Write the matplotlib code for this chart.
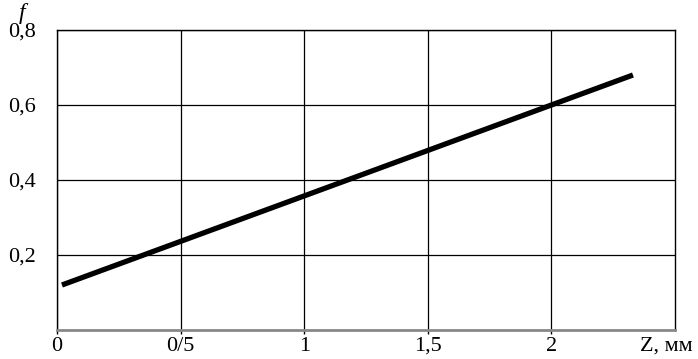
import matplotlib
matplotlib.use('Agg')
import matplotlib.pyplot as plt

# data
z_mm = [0.02, 2.33]
f_vals = [0.12, 0.68]

x_ticks = [0, 0.5, 1, 1.5, 2]
x_labels = ['0', '0/5', '1', '1,5', '2']
y_ticks = [0.2, 0.4, 0.6, 0.8]
y_labels = ['0,2', '0,4', '0,6', '0,8']

plt.rcParams['font.family'] = ['Liberation Serif', 'DejaVu Serif']

fig = plt.figure(figsize=(6.98, 3.59), dpi=100)
ax = fig.add_axes([0.0817, 0.0808, 0.967 - 0.0817, 0.9164 - 0.0808])

ax.plot(z_mm, f_vals, color='black', linewidth=3.8, solid_capstyle='butt')

ax.set_xlim(0, 2.5)
ax.set_ylim(0, 0.8)
ax.set_xticks(x_ticks)
ax.set_xticklabels(x_labels, fontsize=16)
ax.set_yticks(y_ticks)
ax.set_yticklabels(y_labels, fontsize=16)
ax.tick_params(axis='x', length=3, width=1, pad=2, colors='black')
ax.tick_params(axis='y', length=0, pad=15)

ax.grid(True, color='black', linewidth=0.9)
for s in ['top', 'right', 'left']:
    ax.spines[s].set_color('black')
    ax.spines[s].set_linewidth(1.0)
ax.spines['bottom'].set_color('#888888')
ax.spines['bottom'].set_linewidth(2.0)

fig.text(666 / 698, 1 - 346 / 359, 'Z, мм', fontsize=16, ha='center', va='center')
fig.text(22 / 698, 1 - 13 / 359, 'f', fontsize=17, style='italic', ha='center', va='center')

fig.savefig('out.png', dpi=100)
